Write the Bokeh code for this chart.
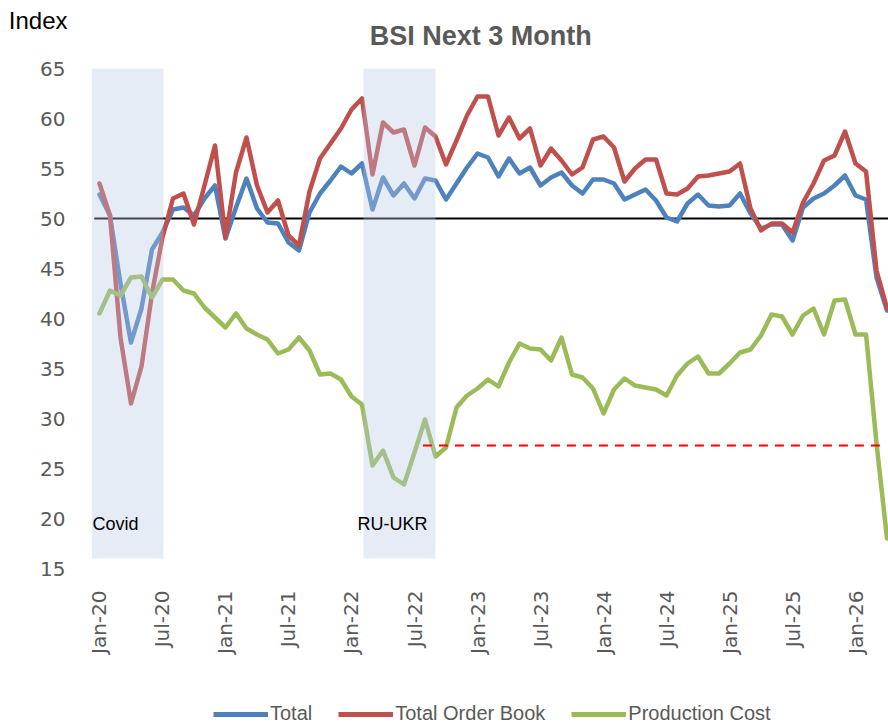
import numpy as np
from bokeh.plotting import figure
from bokeh.layouts import column
from bokeh.models import (FixedTicker, Label, Legend, LegendItem, ColumnDataSource,
                          LinearAxis)
from bokeh.embed import file_html
from bokeh.resources import INLINE

# ---------------- data (monthly, Jan-20 .. Apr-26) ----------------
months = list(range(76))  # 0 = Jan-20
tick_positions = list(range(0, 73, 6))
tick_labels = ["Jan-20", "Jul-20", "Jan-21", "Jul-21", "Jan-22", "Jul-22", "Jan-23",
               "Jul-23", "Jan-24", "Jul-24", "Jan-25", "Jul-25", "Jan-26"]
y_ticks = [15, 20, 25, 30, 35, 40, 45, 50, 55, 60, 65]

total = [52.4, 50.3, 43.5, 37.6, 41.0, 46.9, 48.6, 50.9, 51.1, 50.3,
         52.0, 53.3, 48.0, 51.1, 54.0, 51.0, 49.6, 49.5, 47.6, 46.8,
         50.6, 52.5, 53.8, 55.2, 54.5, 55.5, 50.9, 54.1, 52.3, 53.5,
         52.0, 54.0, 53.8, 51.9, 53.5, 55.1, 56.5, 56.1, 54.2, 56.0,
         54.5, 55.1, 53.3, 54.1, 54.6, 53.3, 52.5, 53.9, 53.9, 53.5,
         51.9, 52.4, 52.9, 51.8, 50.1, 49.7, 51.5, 52.4, 51.3, 51.2,
         51.3, 52.5, 50.5, 49.0, 49.4, 49.4, 47.8, 51.1, 52.0, 52.5,
         53.3, 54.3, 52.3, 51.9, 44.1, 40.8]

order_book = [53.5, 50.3, 38.1, 31.5, 35.2, 42.5, 48.1, 52.0, 52.5, 49.4,
              53.3, 57.3, 48.1, 54.6, 58.1, 53.3, 50.6, 51.8, 48.3, 47.3,
              52.7, 56.0, 57.5, 59.0, 60.9, 62.0, 54.4, 59.6, 58.6, 58.9,
              55.3, 59.1, 58.2, 55.4, 57.8, 60.3, 62.2, 62.2, 58.3, 60.1,
              58.0, 59.0, 55.3, 57.0, 55.8, 54.4, 55.1, 57.9, 58.2, 57.1,
              53.7, 55.0, 55.9, 55.9, 52.5, 52.4, 53.0, 54.2, 54.3, 54.5,
              54.7, 55.5, 51.0, 48.8, 49.5, 49.5, 48.6, 51.6, 53.5, 55.8,
              56.3, 58.7, 55.5, 54.7, 44.8, 41.0]

production_cost = [40.5, 42.8, 42.3, 44.1, 44.2, 42.1, 43.9, 43.9, 42.8, 42.5,
                   41.1, 40.1, 39.1, 40.5, 39.0, 38.4, 37.9, 36.5, 36.9, 38.1,
                   36.8, 34.4, 34.5, 33.9, 32.2, 31.4, 25.3, 26.8, 24.1, 23.4,
                   26.6, 29.9, 26.2, 27.1, 31.1, 32.3, 33.0, 33.9, 33.2, 35.6,
                   37.5, 37.0, 36.9, 35.8, 38.1, 34.4, 34.1, 33.0, 30.5, 32.9,
                   34.0, 33.3, 33.1, 32.9, 32.3, 34.3, 35.5, 36.2, 34.5, 34.5,
                   35.5, 36.6, 36.9, 38.3, 40.4, 40.2, 38.4, 40.3, 41.0, 38.4,
                   41.8, 41.9, 38.4, 38.4, 27.5, 18.0]

# shaded event periods (in month units)
band_names = ["Covid", "RU-UKR"]
band_start = [-0.76, 25.14]
band_end = [6.1, 32.0]
band_label_x = [-0.66, 24.57]
band_bottom = 16.0
band_top = 65.0

neutral_level = 50
cost_ref_level = 27.3
cost_ref_start = 30.8
cost_ref_end = 74.4

X_MIN, X_MAX = -0.76, 75.14
Y_MIN, Y_MAX = 15, 71.8   # frame reaches the top of the canvas (title lives inside)
INDEX_POS = 69.8

series_names = ["Total", "Total Order Book", "Production Cost"]

GREY = "#595959"
BLUE = "#4F81BD"
RED = "#C0504D"
GREEN = "#9BBB59"
colors = [BLUE, RED, GREEN]

p = figure(width=888, height=690, x_range=(X_MIN, X_MAX), y_range=(Y_MIN, Y_MAX),
           output_backend="svg", toolbar_location=None,
           min_border_left=91, min_border_right=0, min_border_top=0,
           min_border_bottom=122, background_fill_color="white",
           border_fill_color="white")
p.outline_line_color = None
p.xgrid.visible = False
p.ygrid.visible = False

# neutral line
p.line([-0.5, X_MAX], [neutral_level, neutral_level], line_color="black", line_width=2)

src = ColumnDataSource(dict(m=months, total=total, ob=order_book, pc=production_cost))
for col, c in zip(["total", "ob", "pc"], colors):
    p.line("m", col, source=src, line_color=c, line_width=4.5,
           line_join="round", line_cap="round")

# shaded bands (semi-transparent over the lines)
p.quad(left=band_start, right=band_end, bottom=[band_bottom] * 2, top=[band_top] * 2,
       fill_color="#B7C8E5", fill_alpha=0.35, line_color=None)

# dashed reference
p.line([cost_ref_start, cost_ref_end], [cost_ref_level, cost_ref_level],
       line_color="#FF0000", line_width=2, line_dash="9 7")

for name, lx in zip(band_names, band_label_x):
    p.add_layout(Label(x=lx, y=19.5, text=name,
                       text_font="Liberation Sans", text_font_size="18px",
                       text_color="black", text_align="left", text_baseline="alphabetic"))

p.add_layout(Label(x=36.3, y=68.3, text="BSI Next 3 Month", text_font="Liberation Sans",
                   text_font_style="bold", text_font_size="27px", text_color=GREY,
                   text_align="center", text_baseline="middle"))

# axes
p.yaxis.ticker = FixedTicker(ticks=y_ticks)
p.yaxis.axis_line_color = None
p.yaxis.major_tick_line_color = None
p.yaxis.minor_tick_line_color = None
p.yaxis.major_tick_out = 0
p.yaxis.major_tick_in = 0
p.yaxis.minor_tick_out = 0
p.yaxis.major_label_standoff = 26
p.yaxis.major_label_text_font = "DejaVu Sans"
p.yaxis.major_label_text_font_size = "20px"
p.yaxis.major_label_text_color = GREY

# unit caption "Index" at the top-left, as a second left axis
index_axis = LinearAxis(ticker=FixedTicker(ticks=[INDEX_POS]),
                        major_label_overrides={INDEX_POS: "Index"},
                        axis_line_color=None, major_tick_line_color=None,
                        minor_tick_line_color=None, major_tick_out=0, major_tick_in=0,
                        minor_tick_out=0, major_label_standoff=-30,
                        major_label_text_font="Liberation Sans",
                        major_label_text_font_size="24px",
                        major_label_text_color="black")
p.add_layout(index_axis, "left")

p.xaxis.ticker = FixedTicker(ticks=tick_positions)
p.xaxis.major_label_overrides = {t: l for t, l in zip(tick_positions, tick_labels)}
p.xaxis.major_label_orientation = np.pi / 2
p.xaxis.axis_line_color = None
p.xaxis.major_tick_line_color = None
p.xaxis.minor_tick_line_color = None
p.xaxis.major_tick_out = 0
p.xaxis.major_tick_in = 0
p.xaxis.minor_tick_out = 0
p.xaxis.major_label_standoff = 22
p.xaxis.major_label_text_font = "DejaVu Sans"
p.xaxis.major_label_text_font_size = "20px"
p.xaxis.major_label_text_color = GREY

# ---------------- legend strip below the chart ----------------
leg = figure(width=888, height=35, x_range=(0, 1), y_range=(0, 1),
             output_backend="svg", toolbar_location=None,
             x_axis_location=None, y_axis_location=None,
             min_border_left=91, min_border_right=0, min_border_top=0,
             min_border_bottom=0, background_fill_color="white",
             border_fill_color="white")
leg.outline_line_color = None
leg.xgrid.visible = False
leg.ygrid.visible = False
items = []
for name, c in zip(series_names, colors):
    # legend-only renderer (no visible data)
    r = leg.line(x=[float("nan")], y=[float("nan")], line_color=c, line_width=5)
    items.append(LegendItem(label=name, renderers=[r]))
legend = Legend(items=items, orientation="horizontal", location=(122, 0),
                padding=0, margin=0, border_line_color=None, background_fill_alpha=0,
                glyph_width=55, glyph_height=20, label_height=20, label_standoff=2,
                spacing=26, label_text_font="Liberation Sans",
                label_text_font_size="20px", label_text_color=GREY)
leg.add_layout(legend)

layout = column(p, leg, spacing=0)
open("out.html", "w").write(file_html(layout, INLINE))
